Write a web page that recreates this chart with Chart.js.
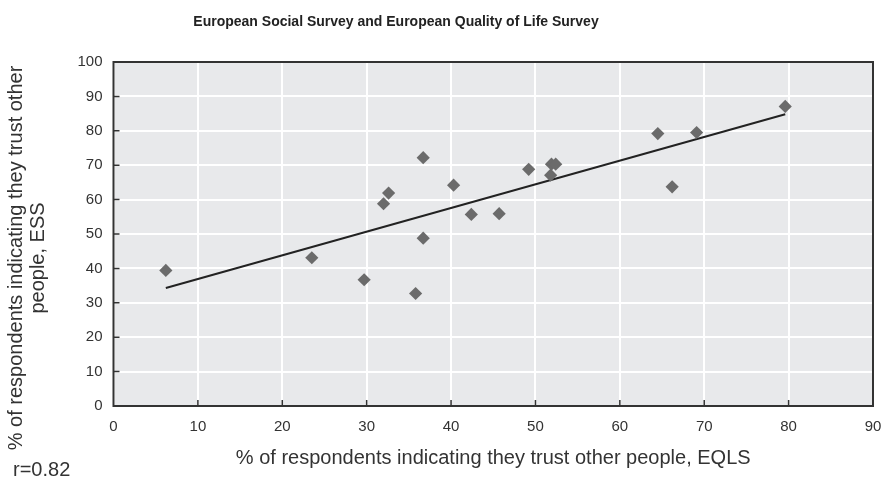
<!DOCTYPE html>
<html>
<head>
<meta charset="utf-8">
<script src="https://cdn.jsdelivr.net/npm/chart.js@4"></script>
<style>
  html, body { margin: 0; padding: 0; background: #fff; }
  #wrap { width: 882px; height: 484px; position: relative; }
</style>
</head>
<body>
<div id="wrap"><canvas id="trustChart"></canvas></div>
<script>
// values
const eqls = [6.2, 23.5, 29.7, 32.0, 32.6, 36.7, 36.7, 35.8, 40.3, 42.4, 45.7, 49.2, 51.8, 51.9, 52.4, 64.5, 66.2, 69.1, 79.6];
const ess  = [39.4, 43.1, 36.7, 58.8, 61.9, 72.2, 48.8, 32.7, 64.2, 55.7, 55.9, 68.8, 67.1, 70.3, 70.3, 79.2, 63.7, 79.5, 87.1];
const trendX = [6.2, 79.6];
const trendY = [34.3, 84.8];
const xTicks = [0, 10, 20, 30, 40, 50, 60, 70, 80, 90];
const yTicks = [0, 10, 20, 30, 40, 50, 60, 70, 80, 90, 100];

const titleText = 'European Social Survey and European Quality of Life Survey';
const xTitle = '% of respondents indicating they trust other people, EQLS';
const yTitle = ['% of respondents indicating they trust other', 'people, ESS'];
const note = 'r=0.82';

const FONT = '"Liberation Sans", Arial, sans-serif';

// grey plot background, box, inward ticks and the loose texts
const decor = {
    id: 'decor',
    beforeDraw(chart) {
        const {ctx, chartArea: a} = chart;
        ctx.save();
        ctx.fillStyle = '#e8e9eb';
        ctx.fillRect(a.left, a.top, a.right - a.left, a.bottom - a.top);
        ctx.restore();
    },
    afterDatasetsDraw(chart) {
        const {ctx, chartArea: a, scales} = chart;
        ctx.save();
        ctx.strokeStyle = '#333';
        ctx.lineWidth = 2;
        ctx.strokeRect(a.left, a.top, a.right - a.left, a.bottom - a.top);
        ctx.lineWidth = 1.5;
        ctx.beginPath();
        xTicks.slice(1, -1).forEach(v => {
            const px = scales.x.getPixelForValue(v);
            ctx.moveTo(px, a.bottom);
            ctx.lineTo(px, a.bottom - 6);
        });
        yTicks.slice(1, -1).forEach(v => {
            const py = scales.y.getPixelForValue(v);
            ctx.moveTo(a.left, py);
            ctx.lineTo(a.left + 6, py);
        });
        ctx.stroke();

        // title sits left of centre in the original
        ctx.fillStyle = '#222';
        ctx.textAlign = 'center';
        ctx.textBaseline = 'middle';
        ctx.font = 'bold 14px ' + FONT;
        ctx.fillText(titleText, 396, 22);

        ctx.fillStyle = '#333';
        ctx.font = '20px ' + FONT;
        ctx.save();
        ctx.translate(16, 258);
        ctx.rotate(-Math.PI / 2);
        ctx.fillText(yTitle[0], 0, 0);
        ctx.fillText(yTitle[1], 0, 22);
        ctx.restore();

        ctx.textAlign = 'left';
        ctx.fillText(note, 13, 470);
        ctx.restore();
    }
};

new Chart(document.getElementById('trustChart'), {
    type: 'scatter',
    data: {
        datasets: [
            {
                label: 'Countries',
                data: eqls.map((x, i) => ({x: x, y: ess[i]})),
                pointStyle: 'rectRot',
                pointRadius: 6.6,
                pointHoverRadius: 6.6,
                backgroundColor: '#6b6b6b',
                borderColor: '#6b6b6b',
                borderWidth: 0
            },
            {
                label: 'Trend',
                data: trendX.map((x, i) => ({x: x, y: trendY[i]})),
                showLine: true,
                pointRadius: 0,
                borderColor: '#222',
                borderWidth: 2
            }
        ]
    },
    options: {
        responsive: true,
        maintainAspectRatio: false,
        animation: false,
        layout: { padding: { top: 62, right: 0, bottom: 0, left: 0 } },
        plugins: {
            legend: { display: false },
            tooltip: { enabled: false },
            title: { display: false }
        },
        scales: {
            x: {
                type: 'linear',
                min: 0,
                max: 90,
                afterFit: s => { s.height = 78; s.paddingRight = 9; },
                afterBuildTicks: s => { s.ticks = xTicks.map(v => ({value: v})); },
                grid: { color: '#fff', lineWidth: 2, drawTicks: false },
                border: { display: false },
                ticks: { color: '#333', padding: 12, font: { family: FONT, size: 15 } },
                title: {
                    display: true,
                    text: xTitle,
                    color: '#333',
                    font: { family: FONT, size: 20 },
                    padding: { top: 4, bottom: 14 }
                }
            },
            y: {
                type: 'linear',
                min: 0,
                max: 100,
                afterFit: s => { s.width = 113.5; },
                afterBuildTicks: s => { s.ticks = yTicks.map(v => ({value: v})); },
                grid: { color: '#fff', lineWidth: 2, drawTicks: false },
                border: { display: false },
                ticks: { color: '#333', padding: 11, font: { family: FONT, size: 15 } }
            }
        }
    },
    plugins: [decor]
});
</script>
</body>
</html>
